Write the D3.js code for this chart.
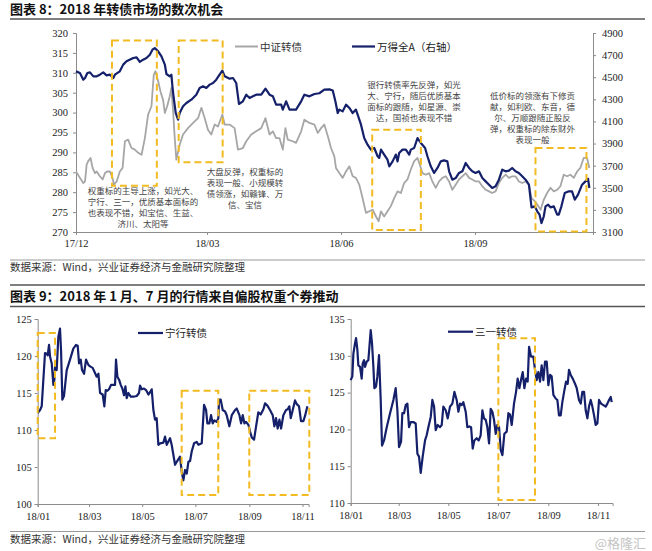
<!DOCTYPE html>
<html><head><meta charset="utf-8">
<script src="https://cdn.jsdelivr.net/npm/d3@7"></script>
<style>body{margin:0;background:#fff}svg{display:block}</style>
</head><body>
<svg id="c" width="652" height="551"></svg>
<script>
// ---------------- DATA ----------------
// Chart 8: day offsets since 2017-12-01, value
const csiCB = [[0,285.2],[2.7,283.6],[5,282.3],[6.2,282.7],[7.3,286.9],[8.4,287.8],[10,288.6],[11.4,286.1],[13,284.8],[14.2,285.2],[16.4,284.0],[18.3,283.2],[19.9,284.8],[21.5,285.2],[23.3,285.2],[25.1,283.6],[26,281.9],[27.9,282.7],[30.1,285.2],[32,286.1],[33.6,292.8],[35.8,293.2],[38.1,291.1],[40.4,290.7],[42.7,289.9],[45,289.4],[47.3,293.6],[49.5,299.5],[51.8,301.6],[53.4,309.5],[54.6,310.4],[56.4,307.9],[58,305.3],[59.8,303.2],[61,299.9],[62.6,301.6],[64.4,304.1],[65.5,306.2],[66.7,300.3],[67.8,293.6],[68.9,288.2],[71.2,291.9],[73.5,294.5],[76.9,296.1],[80.4,297.4],[83.8,298.6],[86.1,301.2],[88.4,298.6],[90.6,295.7],[92.9,294.5],[95.2,297.0],[97.5,296.5],[100.5,299.5],[102.1,297.0],[105.5,297.0],[108.9,296.1],[111.2,290.7],[114.6,291.1],[116.9,292.8],[120.3,294.5],[123.7,295.3],[127.2,296.1],[130.1,298.6],[132.9,294.5],[135.2,295.3],[137.4,293.6],[139.7,293.6],[142,290.7],[143.8,296.1],[145.4,293.2],[148.8,292.8],[151.1,292.4],[154.6,295.3],[156.8,298.2],[160.3,297.4],[163.7,297.0],[166,294.9],[168.3,296.1],[170.5,297.0],[173,294.0],[175.1,291.1],[177.4,289.0],[178.5,286.1],[180.8,284.8],[183.1,283.6],[185.4,285.2],[187.7,286.5],[190,284.0],[192.2,283.6],[194.5,281.9],[196.8,278.5],[199.1,274.8],[201.4,275.2],[203.7,275.6],[206,273.9],[207.8,272.7],[209.4,275.2],[211.6,273.9],[213.9,275.2],[216.2,276.5],[218.5,278.5],[220.8,280.2],[223.1,279.8],[225.3,282.3],[227.6,283.2],[229.9,285.7],[232.2,287.8],[234.5,288.6],[236.1,286.9],[237.9,284.8],[240.2,284.4],[242.5,284.8],[244.7,282.7],[247,281.1],[249.3,282.7],[251.6,283.6],[253.9,284.0],[256.2,282.7],[258.4,280.6],[260.7,281.9],[263,283.2],[265.3,284.0],[267.6,284.8],[269.9,283.6],[272.1,283.2],[274.4,282.7],[276.7,282.7],[279,281.5],[281.3,280.6],[283.6,280.2],[285.8,279.8],[288.1,280.2],[290.4,282.3],[292.7,283.6],[295,284.4],[297.3,283.6],[299.5,284.0],[301.8,284.0],[304.1,282.7],[306.4,282.3],[308.7,282.7],[311,281.9],[312.8,278.5],[315.1,277.7],[317.4,276.5],[319,275.6],[321.2,278.1],[323.5,279.8],[325.8,281.1],[328.1,280.2],[330.4,280.6],[332.6,281.5],[334.9,284.4],[337.2,284.0],[339.5,284.4],[341.8,283.6],[344.1,285.2],[346.3,286.1],[348.6,288.6],[350.9,288.6],[352.5,286.1]];
const windA = [[0,4553],[2.7,4538],[5,4478],[6.2,4493],[7.8,4538],[9.6,4544],[11.9,4508],[14.2,4508],[16.4,4523],[18.7,4544],[21,4517],[23.3,4523],[25.6,4493],[26.7,4523],[30.1,4553],[32.4,4614],[34.7,4644],[39.3,4674],[41.6,4680],[43.8,4638],[46.1,4659],[48.4,4674],[50.7,4704],[52.5,4749],[54.1,4764],[56.4,4734],[58.7,4689],[61,4614],[62.1,4529],[64.4,4508],[65.5,4523],[66.2,4418],[67.1,4312],[68.5,4176],[70.1,4116],[71.2,4176],[73.5,4237],[75.8,4267],[79.2,4297],[82.6,4342],[84.9,4403],[87.2,4418],[89.5,4403],[91.8,4433],[94.1,4448],[96.3,4478],[98.6,4523],[100.5,4559],[102.1,4508],[105.5,4487],[107.8,4493],[110,4448],[111.9,4258],[114.6,4282],[116.9,4342],[119.2,4312],[121.5,4327],[123.7,4342],[127.2,4342],[130.1,4396],[132.9,4342],[135.2,4327],[137.4,4252],[140.9,4252],[142,4207],[144.3,4282],[146.6,4207],[151.1,4207],[154.6,4282],[156.8,4342],[160.3,4327],[163.7,4348],[167.1,4355],[170.5,4387],[174,4390],[176.3,4380],[178.1,4282],[179.7,4176],[180.8,4207],[183.1,4191],[185.4,4252],[187.7,4222],[190,4176],[192.2,4207],[193.4,4161],[195.7,4071],[197.9,3950],[200.2,3890],[202.5,3845],[204.8,3860],[207.1,3785],[208.2,3770],[209.4,3845],[211.6,3800],[213.9,3754],[215.1,3694],[217.4,3739],[219.6,3800],[220.8,3739],[221.9,3815],[224.2,3845],[226.5,3845],[228.8,3800],[229.9,3845],[232.2,3860],[234.5,3950],[236.8,3905],[239.7,3860],[241.3,3785],[243.6,3694],[245.9,3634],[248.2,3679],[250.5,3739],[252.7,3748],[255,3739],[256.2,3649],[258.4,3573],[260.7,3588],[263,3634],[265.3,3649],[267.6,3724],[269.9,3679],[272.1,3649],[274.4,3634],[276.7,3649],[279,3588],[281.3,3558],[283.6,3528],[285.8,3498],[288.1,3513],[290.4,3573],[292.7,3664],[295,3649],[297.3,3655],[299.5,3679],[301.8,3649],[304.1,3634],[306.4,3604],[308.7,3573],[311,3528],[312.8,3323],[315.1,3332],[316.7,3287],[318.3,3257],[319.6,3181],[321.2,3242],[322.4,3332],[324.2,3347],[325.8,3323],[328.1,3332],[330.4,3257],[331.5,3257],[333.3,3332],[335.6,3453],[338.4,3468],[340.6,3468],[342.5,3392],[344.7,3438],[347.5,3528],[349.8,3558],[351.6,3582],[352.5,3498]];
const leftTicks8 = [270,275,280,285,290,295,300,305,310,315,320];
const rightTicks8 = [3100,3300,3500,3700,3900,4100,4300,4500,4700,4900];
const xTicks8 = [["2017-12-01","17/12"],["2018-03-01","18/03"],["2018-06-01","18/06"],["2018-09-01","18/09"]];
// boxes: [startDay, endDay, topValue, bottomValue] (left axis)
const boxes8 = [[24.7,55.5,318.1,281.6],[70.5,100.7,318.1,287.5],[203.4,236.8,295.7,270.5],[315.5,350.5,291.1,270.1]];
const notes8 = [
  {x:143,y:190.7,lines:["权重标的主导上涨，如光大、","宁行、三一，优质基本面标的","也表现不错，如宝信、生益、","济川、太阳等"]},
  {x:245,y:172.3,lines:["大盘反弹，权重标的","表现一般、小规模转","债领涨，如赣锋、万","信、宝信"]},
  {x:414,y:85,lines:["银行转债率先反弹，如光","大、宁行，随后优质基本","面标的跟随，如星源、崇","达，国祯也表现不错"]},
  {x:532.5,y:95.5,lines:["低价标的领涨有下修贡","献，如利欧、东音，德","尔、万顺跟随正股反","弹，权重标的除东财外","表现一般"]}
];
// Chart 9: day offsets since 2018-01-01
const ningxing = [[0,112.3],[2.7,112.7],[4.6,113.2],[6.5,116.8],[8.4,120.4],[10.3,120.3],[11.5,120.1],[13,121.5],[14.2,119.9],[16.1,119.0],[18,116.1],[19.1,116.8],[20.3,119.0],[21.8,118.1],[23.7,122.6],[25.6,123.7],[26.8,120.8],[28.3,114.1],[30.2,114.6],[33.3,118.1],[37.1,119.5],[40.9,121.0],[44,121.5],[45.9,121.4],[47.5,119.0],[49.4,119.5],[50.9,118.1],[53.2,117.6],[55.5,119.5],[58.2,118.8],[60.1,118.6],[63.1,118.4],[65.8,117.7],[67.7,117.2],[69.7,117.6],[71.6,115.0],[74.6,114.8],[76.5,113.2],[78.1,115.4],[80,115.3],[81.9,115.5],[84.2,116.1],[86.9,116.1],[88.8,116.1],[89.9,119.5],[91.5,117.2],[93.4,116.8],[95.3,116.1],[97.2,115.6],[99.1,114.7],[100.7,115.9],[102.2,114.3],[104.1,115.0],[106.8,114.5],[109.8,114.5],[113.7,114.6],[116.3,115.0],[117.5,116.0],[119.4,115.5],[122.1,115.6],[124.4,115.4],[127.1,114.8],[129,115.1],[130.9,115.5],[132.8,112.7],[134.7,111.4],[136.6,111.6],[138.5,108.0],[140.5,108.2],[144.3,108.3],[146.2,109.1],[148.1,108.0],[151.9,108.9],[153.8,108.0],[157.7,105.3],[159.6,105.7],[163.4,106.4],[165.3,104.4],[167.2,103.2],[169.2,104.6],[171.1,104.1],[173,105.7],[174.9,105.8],[176.8,107.1],[179.5,108.2],[182.5,108.4],[184.5,108.0],[188.3,108.2],[191,113.4],[193.3,112.7],[194.8,110.9],[197.1,110.9],[199,112.0],[200.9,110.9],[202.8,111.3],[205.5,111.1],[207.4,111.6],[208.2,114.1],[210.1,114.1],[212.4,112.7],[215.1,112.5],[217,112.0],[220,110.5],[222.8,112.0],[226.6,112.7],[228.5,112.9],[231.6,112.0],[233.5,110.9],[235.4,112.0],[237.3,110.9],[239.2,111.1],[241.9,110.7],[243.8,109.8],[245.7,109.0],[248.4,108.7],[250.7,110.5],[253.3,112.4],[256,112.1],[259.1,112.8],[261,113.6],[263.7,113.3],[266.7,112.7],[269.8,112.0],[271.7,110.5],[273.6,111.6],[275.5,110.2],[277.5,111.4],[279.4,110.2],[282,112.0],[285.1,112.7],[287,112.8],[288.9,113.2],[290.5,111.6],[292.8,112.7],[295.4,114.0],[297.4,113.5],[300,113.2],[302.3,111.2],[305,111.2],[306.9,111.9],[309.6,113.2]];
const sany = [[0,126.7],[2,127.2],[3.3,130.3],[5.3,131.7],[6.6,132.4],[8.2,130.8],[9.4,128.7],[11.5,128.5],[13.5,126.9],[14.8,129.0],[16.4,129.4],[17.6,128.5],[19.7,129.2],[21.7,129.4],[23,131.2],[24.6,133.5],[26.2,131.7],[27.9,128.5],[29.1,125.6],[31.1,125.8],[32.8,127.2],[34.8,130.1],[36.9,124.0],[38.5,117.8],[41,118.5],[44.3,120.3],[48.4,122.2],[52.5,124.0],[55.3,125.6],[57.4,122.6],[59.4,117.6],[61.9,118.3],[63.5,122.2],[65.6,122.2],[67.6,123.3],[69.7,123.5],[71.7,120.3],[73.8,121.0],[77,121.0],[79.9,120.8],[82,116.7],[84,116.3],[86.1,114.1],[88.5,116.3],[91.4,118.5],[93.4,119.2],[95.5,120.3],[98.4,121.7],[100.4,124.0],[102.5,123.1],[104.5,119.9],[107,120.6],[109.8,120.3],[111.9,120.6],[113.9,123.1],[116.8,122.6],[119.3,121.5],[122.1,123.1],[125,123.5],[127.5,125.1],[130.3,124.0],[132.4,122.4],[134.4,123.5],[136.5,123.3],[138.5,123.7],[141.4,122.4],[143.4,120.3],[145.9,120.4],[148,120.3],[150,117.4],[152,118.5],[154.9,118.8],[157.4,118.5],[159.8,119.2],[161.9,122.6],[163.9,121.5],[166,121.3],[168,120.3],[170.1,118.1],[172.1,122.8],[174.2,122.4],[176.2,121.3],[178.3,119.4],[180.3,120.6],[182.4,120.3],[184.4,117.2],[186.5,116.5],[188.9,119.4],[191.8,119.7],[193.9,122.2],[195.9,122.0],[198,120.6],[200.8,123.5],[203.3,125.1],[205.3,126.9],[207.4,125.6],[209.4,126.7],[211.5,127.8],[213.5,125.6],[215.6,126.9],[217.6,126.5],[219.3,131.2],[221.7,129.9],[224.6,129.9],[226.6,128.1],[228.7,126.7],[230.7,127.8],[232.8,126.5],[234.8,128.7],[236.9,126.7],[238.9,129.2],[241,129.2],[243,126.0],[245.1,127.4],[247.1,127.2],[249.2,124.7],[252,124.2],[254.1,124.0],[256.1,121.9],[258.2,121.9],[260.2,123.7],[262.7,125.3],[264.8,126.5],[266.8,126.2],[268.4,128.1],[270.5,127.4],[273,126.9],[275.8,126.2],[277.9,125.6],[280.7,124.0],[282.8,123.5],[284.8,125.1],[286.9,125.1],[288.9,122.6],[291,121.5],[293,123.1],[295.1,124.0],[297.1,123.1],[299.2,121.9],[301.2,120.6],[303.3,120.8],[305.3,124.0],[307.8,123.5],[310.7,123.3],[313.5,123.1],[315.6,123.5],[317.6,124.0],[319.7,124.4],[320.9,123.7]];
const ticksNX = [100,105,110,115,120,125];
const ticksSY = [110,115,120,125,130,135];
const xTicks9 = [["2018-01-01","18/01"],["2018-03-01","18/03"],["2018-05-01","18/05"],["2018-07-01","18/07"],["2018-09-01","18/09"],["2018-11-01","18/11"]];
const boxesNX = [[0,19.9,123.1,108.9],[165.3,207.3,115.3,101.2],[242.9,311.8,115.3,101.2]];
const boxesSY = [[181.5,226.6,132.4,110.4]];
const titles = ["图表 8：2018 年转债市场的数次机会","图表 9：2018 年 1 月、7 月的行情来自偏股权重个券推动"];
const sourceText = "数据来源：Wind，兴业证券经济与金融研究院整理";

// ---------------- DRAW ----------------
const svg = d3.select("#c");
const CJK = '"Noto Sans CJK SC","Noto Sans",sans-serif';
const SERIF = '"Liberation Serif","Times New Roman",serif';
const NAVY = "#15206b", GRAY = "#a6a6a6", GOLD = "#f2bb22", AX = "#8c8c8c";
const dayOf = (base, t) => new Date(base.getTime() + t * 864e5);
const parse = d3.timeParse("%Y-%m-%d");
const fmtInt = d3.format("d");

svg.append("rect").attr("width",652).attr("height",551).attr("fill","#fff");

function hline(y, x1, x2, c, w){ svg.append("line").attr("x1",x1).attr("x2",x2).attr("y1",y).attr("y2",y).attr("stroke",c).attr("stroke-width",w); }
function txt(x,y,s,size,opt={}){
  return svg.append("text").attr("x",x).attr("y",y).text(s)
    .attr("font-family",opt.family||CJK).attr("font-size",size)
    .attr("font-weight",opt.weight||400).attr("fill",opt.fill||"#222")
    .attr("text-anchor",opt.anchor||"start");
}
// headers / separators
txt(10,14,titles[0],13,{weight:700,fill:"#111"});
hline(19,10,645,"#555",1.5);
hline(260,10,645,"#999",1);
txt(10,271,sourceText,10.5,{fill:"#333"});
hline(285,10,645,"#555",1.5);
txt(10,301,titles[1],13,{weight:700,fill:"#111"});
hline(306.5,10,645,"#555",1.5);
hline(531.5,10,645,"#999",1);
txt(10,543,sourceText,10.5,{fill:"#333"});
txt(646,548,"@格隆汇",13,{fill:"#c4c4c4",anchor:"end"});

function styleAxis(g){
  g.select(".domain").attr("stroke",AX).attr("stroke-width",1);
  g.selectAll(".tick line").attr("stroke",AX);
  g.selectAll(".tick text").attr("font-family",SERIF).attr("font-size",10.5).attr("fill","#222");
}

// ---- Chart 8 ----
const base8 = new Date(2017,11,1);
const x8 = d3.scaleTime().domain([base8, new Date(2018,10,21)]).range([76,593]);
const yL = d3.scaleLinear().domain([270,320]).range([232,33]);
const yR = d3.scaleLinear().domain([3100,4900]).range([232,33]);

svg.append("g").attr("transform","translate(76,0)")
  .call(d3.axisLeft(yL).tickValues(leftTicks8).tickFormat(fmtInt).tickSize(3).tickPadding(5)).call(styleAxis);
svg.append("g").attr("transform","translate(593,0)")
  .call(d3.axisRight(yR).tickValues(rightTicks8).tickFormat(fmtInt).tickSize(3).tickPadding(6)).call(styleAxis);
svg.append("g").attr("transform","translate(0,232)")
  .call(d3.axisBottom(x8).tickValues(xTicks8.map(d=>parse(d[0]))).tickFormat((d,i)=>xTicks8[i][1]).tickSize(3).tickPadding(5)).call(styleAxis);

const lineL = d3.line().x(d=>x8(dayOf(base8,d[0]))).y(d=>yL(d[1]));
const lineR = d3.line().x(d=>x8(dayOf(base8,d[0]))).y(d=>yR(d[1]));
svg.append("path").attr("d",lineL(csiCB)).attr("fill","none").attr("stroke",GRAY).attr("stroke-width",1.8).attr("stroke-linejoin","round");
svg.append("path").attr("d",lineR(windA)).attr("fill","none").attr("stroke",NAVY).attr("stroke-width",2.2).attr("stroke-linejoin","round");

function drawBoxes(list, xs, ys, base){
  list.forEach(b=>{
    const x1 = xs(dayOf(base,b[0])), x2 = xs(dayOf(base,b[1]));
    const y1 = ys(b[2]), y2 = ys(b[3]);
    svg.append("rect").attr("x",x1).attr("y",y1).attr("width",x2-x1).attr("height",y2-y1)
      .attr("fill","none").attr("stroke",GOLD).attr("stroke-width",2).attr("stroke-dasharray","7,4");
  });
}
drawBoxes(boxes8, x8, yL, base8);

notes8.forEach(n=>{
  n.lines.forEach((s,i)=>{
    txt(n.x, n.y + i*11 + 3, s, 8.5, {anchor:"middle", fill:"#444"});
  });
});

// legend chart 8
svg.append("line").attr("x1",235).attr("x2",258).attr("y1",46.5).attr("y2",46.5).attr("stroke",GRAY).attr("stroke-width",2);
txt(260,50.5,"中证转债",10.5,{fill:"#333"});
svg.append("line").attr("x1",352).attr("x2",375).attr("y1",46.5).attr("y2",46.5).attr("stroke",NAVY).attr("stroke-width",2.2);
txt(377,50.5,"万得全A（右轴）",10.5,{fill:"#222"});

// ---- Chart 9 ----
const base9 = new Date(2018,0,1);
function smallChart(cfg){
  const xs = d3.scaleTime().domain([base9, cfg.end]).range(cfg.xr);
  const ys = d3.scaleLinear().domain([cfg.ticks[0], cfg.ticks[cfg.ticks.length-1]]).range(cfg.yr);
  svg.append("g").attr("transform",`translate(${cfg.xr[0]},0)`)
    .call(d3.axisLeft(ys).tickValues(cfg.ticks).tickFormat(fmtInt).tickSize(3).tickPadding(3)).call(styleAxis);
  svg.append("g").attr("transform",`translate(0,${cfg.yr[0]})`)
    .call(d3.axisBottom(xs).tickValues(xTicks9.map(d=>parse(d[0]))).tickFormat((d,i)=>xTicks9[i][1]).tickSize(3).tickPadding(6)).call(styleAxis);
  const ln = d3.line().x(d=>xs(dayOf(base9,d[0]))).y(d=>ys(d[1]));
  svg.append("path").attr("d",ln(cfg.data)).attr("fill","none").attr("stroke",NAVY).attr("stroke-width",2.2).attr("stroke-linejoin","round");
  drawBoxes(cfg.boxes, xs, ys, base9);
  svg.append("line").attr("x1",cfg.leg[0]).attr("x2",cfg.leg[0]+25).attr("y1",cfg.leg[1]).attr("y2",cfg.leg[1]).attr("stroke",NAVY).attr("stroke-width",2.2);
  txt(cfg.leg[0]+27, cfg.leg[1]+4, cfg.name, 10.5, {fill:"#222"});
}
smallChart({data:ningxing, name:"宁行转债", ticks:ticksNX, boxes:boxesNX,
  end:new Date(2018,10,8), xr:[37.7,308.6], yr:[504,319], leg:[138,333]});
smallChart({data:sany, name:"三一转债", ticks:ticksSY, boxes:boxesSY,
  end:new Date(2018,10,19), xr:[350.7,612.6], yr:[503,319], leg:[448,331.7]});
</script>
</body></html>
